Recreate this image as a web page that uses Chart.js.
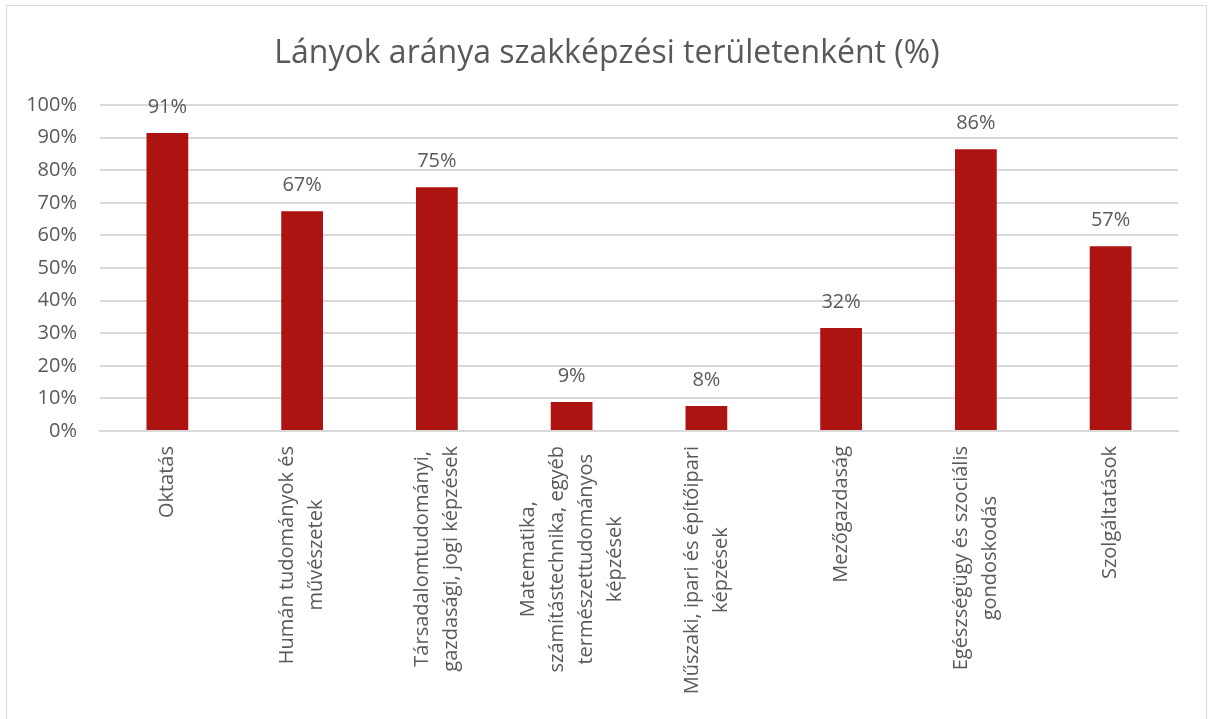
<!DOCTYPE html>
<html>
<head>
<meta charset="utf-8">
<script src="https://cdn.jsdelivr.net/npm/chart.js@4"></script>
<style>
  html, body { margin: 0; padding: 0; background: #fff; }
  #wrap { position: relative; width: 1214px; height: 719px; }
  #frame { position: absolute; left: 6px; top: 5px; width: 1201px; height: 730px; border: 1px solid #d9d9d9; box-sizing: border-box; }
  canvas { position: absolute; left: 0; top: 0; }
</style>
</head>
<body>
<div id="wrap">
  <div id="frame"></div>
  <canvas id="chart" width="1214" height="719"></canvas>
</div>
<script>
const chartTitle = 'Lányok aránya szakképzési területenként (%)';
const categories = [
    ['Oktatás'],
    ['Humán tudományok és', 'művészetek'],
    ['Társadalomtudományi,', 'gazdasági, jogi képzések'],
    ['Matematika,', 'számítástechnika, egyéb', 'természettudományos', 'képzések'],
    ['Műszaki, ipari és építőipari', 'képzések'],
    ['Mezőgazdaság'],
    ['Egészségügy és szociális', 'gondoskodás'],
    ['Szolgáltatások']
];
const shareOfGirls = [91.4, 67.4, 74.8, 8.9, 7.7, 31.6, 86.4, 56.7];
const yTicks = [0, 10, 20, 30, 40, 50, 60, 70, 80, 90, 100];

const textColor = '#595959';
const fontFamily = '"Open Sans", sans-serif';

// cím a vászon közepén
const chartTitlePlugin = {
    id: 'chartTitlePlugin',
    afterDraw(chart) {
        const ctx = chart.ctx;
        ctx.save();
        ctx.fillStyle = textColor;
        ctx.font = '32px ' + fontFamily;
        ctx.textAlign = 'center';
        ctx.textBaseline = 'alphabetic';
        ctx.fillText(chartTitle, chart.width / 2, 63);
        ctx.restore();
    }
};

// feliratok az oszlopok fölé
const valueLabels = {
    id: 'valueLabels',
    afterDatasetsDraw(chart) {
        const ctx = chart.ctx;
        const meta = chart.getDatasetMeta(0);
        ctx.save();
        ctx.fillStyle = textColor;
        ctx.font = '20px ' + fontFamily;
        ctx.textAlign = 'center';
        ctx.textBaseline = 'middle';
        meta.data.forEach((bar, i) => {
            ctx.fillText(Math.round(shareOfGirls[i]) + '%', bar.x, bar.y - 26);
        });
        ctx.restore();
    }
};

// elforgatott, középre zárt kategóriacímkék
const categoryLabels = {
    id: 'categoryLabels',
    afterDraw(chart) {
        const ctx = chart.ctx;
        const xScale = chart.scales.x;
        const lineHeight = 29;
        ctx.save();
        ctx.fillStyle = textColor;
        ctx.font = '20px ' + fontFamily;
        ctx.textAlign = 'center';
        ctx.textBaseline = 'middle';
        categories.forEach((lines, i) => {
            const x = xScale.getPixelForValue(i);
            const maxW = Math.max(...lines.map(l => ctx.measureText(l).width));
            ctx.save();
            ctx.translate(x, xScale.top + 15);
            ctx.rotate(-Math.PI / 2);
            lines.forEach((line, j) => {
                ctx.fillText(line, -maxW / 2, (j - (lines.length - 1) / 2) * lineHeight);
            });
            ctx.restore();
        });
        ctx.restore();
    }
};

const ctx = document.getElementById('chart').getContext('2d');
new Chart(ctx, {
    type: 'bar',
    data: {
        labels: categories.map(c => c.join(' ')),
        datasets: [{
            data: shareOfGirls,
            backgroundColor: '#ad1411',
            barPercentage: 0.62,
            categoryPercentage: 0.5
        }]
    },
    options: {
        responsive: false,
        animation: false,
        layout: { padding: { left: 20, right: 36, top: 105, bottom: 0 } },
        plugins: {
            legend: { display: false },
            tooltip: { enabled: false },
            title: { display: false }
        },
        scales: {
            x: {
                grid: { display: false },
                border: { color: '#d9d9d9', width: 2 },
                ticks: { display: false },
                afterFit(scale) { scale.height = 288; }
            },
            y: {
                min: 0,
                max: 100,
                afterBuildTicks(scale) { scale.ticks = yTicks.map(v => ({ value: v })); },
                afterFit(scale) { scale.width = 80; },
                grid: { color: '#d9d9d9', lineWidth: 2, drawTicks: false },
                border: { display: false },
                ticks: {
                    color: textColor,
                    padding: 23,
                    font: { family: fontFamily, size: 20 },
                    callback: v => v + '%'
                }
            }
        }
    },
    plugins: [chartTitlePlugin, valueLabels, categoryLabels]
});
</script>
</body>
</html>
